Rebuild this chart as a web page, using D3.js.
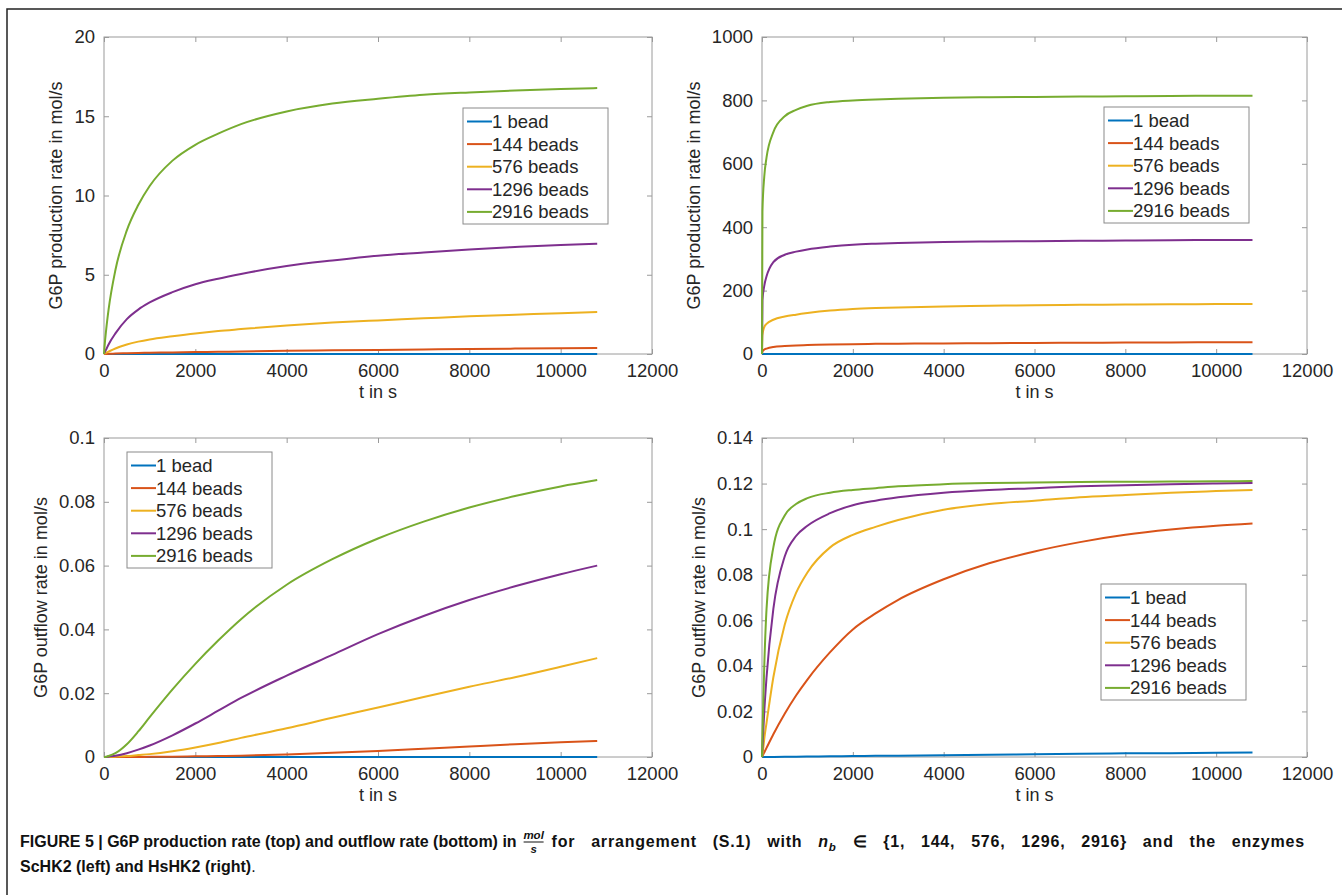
<!DOCTYPE html>
<html lang="en">
<head>
<meta charset="UTF-8">
<title>G6P production and outflow rate</title>
<style>
  body { margin: 0; background: #fff; }
  svg text { font-family: "Liberation Sans", Arial, Helvetica, sans-serif; fill: #262626; }
  .tick text { font-size: 18.5px; }
  .alabel { font-size: 18px; }
  .legend text { font-size: 18.5px; }
  .caption { font-size: 16px; font-weight: bold; fill: #111; }
</style>
</head>
<body>
<svg id="fig" width="1342" height="895"></svg>
<script src="https://cdn.jsdelivr.net/npm/d3@7"></script>
<script>

var times = [0, 10, 50, 100, 250, 500, 750, 1000, 1500, 2000, 2500, 3000, 4000, 5000, 6000, 7000, 8000, 9000, 10000, 10800];

var seriesNames = ["1 bead", "144 beads", "576 beads", "1296 beads", "2916 beads"];
var colors = ["#0072BD", "#D95319", "#EDB120", "#7E2F8E", "#77AC30"];

var xTicks = [0, 2000, 4000, 6000, 8000, 10000, 12000];

// ScHK2 production rate (top left), one row per bead count
var prodScHK2 = [
  [0, 0, 0.0005, 0.001, 0.002, 0.003, 0.004, 0.004, 0.005, 0.005, 0.006, 0.006, 0.006, 0.007, 0.007, 0.007, 0.007, 0.007, 0.007, 0.007],
  [0, 0.001, 0.005, 0.01, 0.03, 0.05, 0.07, 0.08, 0.1, 0.12, 0.14, 0.16, 0.2, 0.23, 0.26, 0.29, 0.32, 0.34, 0.36, 0.38],
  [0, 0.02, 0.08, 0.15, 0.35, 0.6, 0.78, 0.92, 1.12, 1.3, 1.45, 1.57, 1.8, 1.98, 2.12, 2.25, 2.38, 2.48, 2.57, 2.65],
  [0, 0.08, 0.3, 0.6, 1.3, 2.2, 2.8, 3.25, 3.9, 4.4, 4.75, 5.05, 5.55, 5.9, 6.2, 6.4, 6.6, 6.75, 6.88, 6.95],
  [0, 0.4, 1.6, 2.8, 5.3, 7.8, 9.4, 10.6, 12.2, 13.2, 13.9, 14.5, 15.3, 15.8, 16.1, 16.35, 16.5, 16.62, 16.72, 16.78]
];

// HsHK2 production rate (top right)
var prodHsHK2 = [
  [0, 0.1, 0.15, 0.18, 0.2, 0.22, 0.23, 0.24, 0.25, 0.25, 0.26, 0.26, 0.26, 0.26, 0.26, 0.26, 0.26, 0.26, 0.26, 0.26],
  [0, 8, 14, 17, 22, 25, 27, 28, 30, 31, 32, 32.5, 33.5, 34, 35, 35.5, 36, 36.5, 37, 37.3],
  [0, 60, 85, 95, 108, 118, 124, 129, 137, 142, 145, 147, 150, 152, 154, 155, 156, 157, 157.5, 158],
  [0, 170, 215, 245, 290, 313, 323, 330, 339, 345, 348, 350, 353, 355, 356, 357, 358, 359, 359.5, 360],
  [0, 450, 560, 620, 700, 750, 770, 783, 795, 800, 803, 805, 808, 810, 811, 812, 813, 814, 814.5, 815]
];

// ScHK2 outflow rate (bottom left)
var outScHK2 = [
  [0, 0, 0, 0, 0, 0, 0, 0, 0, 0, 0, 0, 0, 0.00001, 0.00001, 0.00001, 0.00001, 0.00001, 0.00002, 0.00002],
  [0, 0, 0, 0, 0, 0, 0.00002, 0.00005, 0.0001, 0.0002, 0.0003, 0.0004, 0.0008, 0.0013, 0.0019, 0.0026, 0.0033, 0.004, 0.0046, 0.005],
  [0, 0, 0, 0, 0.0001, 0.0003, 0.0006, 0.0009, 0.0018, 0.003, 0.0044, 0.006, 0.009, 0.0123, 0.0155, 0.0188, 0.022, 0.025, 0.0283, 0.031],
  [0, 0, 0, 0.0001, 0.0004, 0.0012, 0.0023, 0.0036, 0.0068, 0.0105, 0.0145, 0.0185, 0.0255, 0.032, 0.0385, 0.0442, 0.0492, 0.0535, 0.0573, 0.060],
  [0, 0, 0.0001, 0.0003, 0.0012, 0.004, 0.008, 0.0125, 0.0212, 0.0292, 0.0365, 0.0432, 0.054, 0.062, 0.0685, 0.0738, 0.0782, 0.0818, 0.0848, 0.0868]
];

// HsHK2 outflow rate (bottom right)
var outHsHK2 = [
  [0, 0, 0.00001, 0.00002, 0.00005, 0.0001, 0.00015, 0.0002, 0.0003, 0.0004, 0.0005, 0.0006, 0.0008, 0.001, 0.0012, 0.0014, 0.0016, 0.0017, 0.0019, 0.002],
  [0, 0.0004, 0.002, 0.004, 0.01, 0.019, 0.027, 0.034, 0.046, 0.056, 0.063, 0.069, 0.078, 0.085, 0.0902, 0.0943, 0.0975, 0.0998, 0.1015, 0.1025],
  [0, 0.001, 0.008, 0.015, 0.035, 0.058, 0.072, 0.081, 0.092, 0.0975, 0.101, 0.104, 0.1085, 0.111, 0.1125, 0.114, 0.115, 0.116, 0.1167, 0.1172],
  [0, 0.004, 0.02, 0.035, 0.065, 0.088, 0.097, 0.1015, 0.107, 0.1105, 0.1125, 0.114, 0.116, 0.1172, 0.118, 0.1188, 0.1193, 0.1197, 0.12, 0.1202],
  [0, 0.01, 0.04, 0.065, 0.092, 0.106, 0.111, 0.1136, 0.116, 0.1172, 0.118, 0.1188, 0.1197, 0.1202, 0.1205, 0.1207, 0.1208, 0.1209, 0.121, 0.1211]
];

var yTicksProdSc = [0, 5, 10, 15, 20];
var yTicksProdHs = [0, 200, 400, 600, 800, 1000];
var yTicksOutSc = [0, 0.02, 0.04, 0.06, 0.08, 0.1];
var yTicksOutHs = [0, 0.02, 0.04, 0.06, 0.08, 0.1, 0.12, 0.14];

var svg = d3.select("#fig");

// outer frame (top and left edges of the figure box)
svg.append("path")
    .attr("d", "M7,895 V9 H1342")
    .attr("fill", "none")
    .attr("stroke", "#222")
    .attr("stroke-width", 1.5);

var panels = [
  { rows: prodScHK2, yTicks: yTicksProdSc, ylabel: "G6P production rate in mol/s",
    left: 104, right: 652, top: 37, bottom: 354, legend: [463, 108] },
  { rows: prodHsHK2, yTicks: yTicksProdHs, ylabel: "G6P production rate in mol/s",
    left: 762, right: 1307, top: 37, bottom: 354, legend: [1104, 107] },
  { rows: outScHK2, yTicks: yTicksOutSc, ylabel: "G6P outflow rate in mol/s",
    left: 104, right: 652, top: 438, bottom: 757, legend: [127, 452] },
  { rows: outHsHK2, yTicks: yTicksOutHs, ylabel: "G6P outflow rate in mol/s",
    left: 762, right: 1307, top: 438, bottom: 757, legend: [1101, 584] }
];

var fmt = d3.format("~g");
var axisColor = "#9a9a9a";

panels.forEach(function(p) {
  var x = d3.scaleLinear().domain([0, 12000]).range([p.left, p.right]);
  var y = d3.scaleLinear().domain([p.yTicks[0], p.yTicks[p.yTicks.length - 1]]).range([p.bottom, p.top]);
  var g = svg.append("g");

  // box
  g.append("rect")
      .attr("x", p.left).attr("y", p.top)
      .attr("width", p.right - p.left).attr("height", p.bottom - p.top)
      .attr("fill", "#fff").attr("stroke", axisColor).attr("stroke-width", 1);

  // inward ticks on all four sides
  var bottomAxis = g.append("g").attr("transform", "translate(0," + p.bottom + ")")
      .call(d3.axisBottom(x).tickValues(xTicks).tickFormat(fmt).tickSizeInner(-5).tickSizeOuter(0).tickPadding(9));
  var topAxis = g.append("g").attr("transform", "translate(0," + p.top + ")")
      .call(d3.axisTop(x).tickValues(xTicks).tickFormat("").tickSizeInner(-5).tickSizeOuter(0));
  var leftAxis = g.append("g").attr("transform", "translate(" + p.left + ",0)")
      .call(d3.axisLeft(y).tickValues(p.yTicks).tickFormat(fmt).tickSizeInner(-5).tickSizeOuter(0).tickPadding(9));
  var rightAxis = g.append("g").attr("transform", "translate(" + p.right + ",0)")
      .call(d3.axisRight(y).tickValues(p.yTicks).tickFormat("").tickSizeInner(-5).tickSizeOuter(0));
  [bottomAxis, topAxis, leftAxis, rightAxis].forEach(function(a) {
    a.select(".domain").remove();
    a.selectAll("line").attr("stroke", axisColor);
    a.attr("font-family", null).attr("font-size", null);
  });
  bottomAxis.selectAll("text").attr("dy", "0.75em");

  // curves
  var line = d3.line()
      .x(function(d, i) { return x(times[i]); })
      .y(function(d) { return y(d); })
      .curve(d3.curveMonotoneX);
  p.rows.forEach(function(row, k) {
    g.append("path")
        .attr("d", line(row))
        .attr("fill", "none")
        .attr("stroke", colors[k])
        .attr("stroke-width", 2);
  });

  // axis labels
  var maxW = d3.max(leftAxis.selectAll("text").nodes(), function(n) { return n.getComputedTextLength(); });
  g.append("text")
      .attr("class", "alabel")
      .attr("transform", "translate(" + (p.left - 9 - maxW - 12) + "," + ((p.top + p.bottom) / 2) + ") rotate(-90)")
      .attr("text-anchor", "middle")
      .text(p.ylabel);
  g.append("text")
      .attr("class", "alabel")
      .attr("x", (p.left + p.right) / 2)
      .attr("y", p.bottom + 44)
      .attr("text-anchor", "middle")
      .text("t in s");

  // legend
  var lg = g.append("g").attr("class", "legend")
      .attr("transform", "translate(" + p.legend[0] + "," + p.legend[1] + ")");
  lg.append("rect")
      .attr("width", 145).attr("height", 116)
      .attr("fill", "#fff").attr("stroke", "#8a8a8a").attr("stroke-width", 1);
  seriesNames.forEach(function(name, k) {
    var cy = 13.5 + k * 22.6;
    lg.append("line")
        .attr("x1", 4).attr("x2", 29).attr("y1", cy).attr("y2", cy)
        .attr("stroke", colors[k]).attr("stroke-width", 2);
    lg.append("text")
        .attr("x", 29).attr("y", cy).attr("dy", "0.35em")
        .text(name);
  });
});

// caption, first line
var capY = 847;
var capA = svg.append("text").attr("class", "caption").attr("x", 20).attr("y", capY)
    .text("FIGURE 5 | G6P production rate (top) and outflow rate (bottom) in");
var endA = 20 + capA.node().getComputedTextLength();

var fx = endA + 17;
svg.append("text").attr("class", "caption").attr("x", fx).attr("y", capY - 8)
    .attr("text-anchor", "middle").style("font-size", "11.5px").style("font-style", "italic").text("mol");
svg.append("line").attr("x1", fx - 10).attr("x2", fx + 10).attr("y1", capY - 5).attr("y2", capY - 5)
    .attr("stroke", "#111").attr("stroke-width", 1);
svg.append("text").attr("class", "caption").attr("x", fx).attr("y", capY + 6)
    .attr("text-anchor", "middle").style("font-size", "11.5px").style("font-style", "italic").text("s");

// rest of the line, justified up to the right margin
var startB = fx + 18;
var capB = svg.append("text").attr("class", "caption").attr("x", startB).attr("y", capY)
    .style("letter-spacing", "0.8px");
capB.append("tspan").text("for arrangement (S.1) with ");
capB.append("tspan").style("font-style", "italic").text("n");
capB.append("tspan").style("font-style", "italic").style("font-size", "11.5px").attr("dy", 4).text("b");
capB.append("tspan").attr("dy", -4).text(" \u2208 {1, 144, 576, 1296, 2916} and the enzymes");
var natB = capB.node().getBBox().width;
var spacesB = capB.text().split(" ").length - 1;
capB.style("word-spacing", ((1305 - startB - natB) / spacesB) + "px");

var cap2 = svg.append("text").attr("class", "caption").attr("x", 20).attr("y", capY + 25);
cap2.append("tspan").text("ScHK2 (left) and HsHK2 (right)");
cap2.append("tspan").style("font-weight", "normal").text(".");

</script>
</body>
</html>
